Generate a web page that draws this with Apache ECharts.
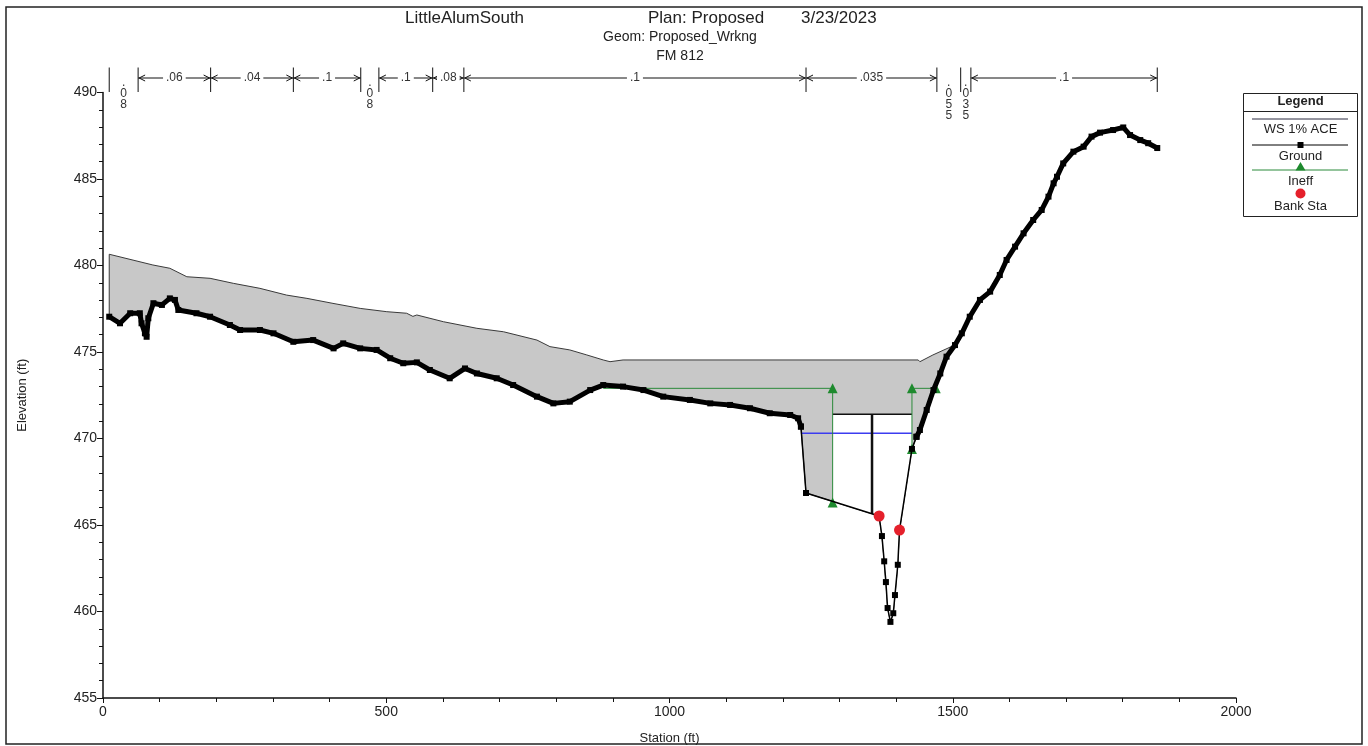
<!DOCTYPE html>
<html>
<head>
<meta charset="utf-8">
<title>LittleAlumSouth</title>
<script src="https://cdn.jsdelivr.net/npm/echarts@6/dist/echarts.min.js"></script>
<style>
  html, body { margin: 0; padding: 0; background: #fff; }
  #chart { width: 1368px; height: 746px; }
</style>
</head>
<body>
<div id="chart"></div>
<script>
// 断面数据 (station ft, elevation ft)
const wsSta = [11, 88, 118, 148, 189, 230, 277, 324, 360, 406, 454, 501, 536, 547, 554, 601, 660, 707, 766, 789, 824, 854, 883, 895, 918, 1439, 1442, 1465, 1500]
const wsElev = [480.65, 480.03, 479.84, 479.35, 479.26, 478.97, 478.68, 478.29, 478.10, 477.81, 477.52, 477.33, 477.24, 477.06, 477.14, 476.75, 476.37, 476.17, 475.69, 475.31, 475.12, 474.83, 474.54, 474.44, 474.54, 474.54, 474.44, 474.83, 475.35]

const groundSta = [11, 30, 48, 65, 68, 74, 77, 80, 89, 104, 118, 127, 133, 165, 189, 224, 242, 277, 301, 336, 371, 407, 424, 454, 483, 507, 530, 554, 577, 612, 639, 660, 695, 724, 766, 795, 824, 860, 883, 918, 954, 989, 1036, 1072, 1107, 1142, 1177, 1213, 1227, 1232,
  1241, 1370, 1375, 1379, 1382, 1385, 1390, 1395, 1398, 1403, 1406, 1428, 1436,
  1442, 1454, 1466, 1478, 1489, 1504, 1516, 1530, 1548, 1566, 1583, 1595, 1610, 1625, 1642, 1657, 1669, 1678, 1684, 1695, 1713, 1731, 1745, 1760, 1783, 1801, 1813, 1831, 1845, 1861]
const groundElev = [477.04, 476.66, 477.24, 477.24, 476.66, 476.08, 475.88, 476.95, 477.82, 477.72, 478.10, 478.01, 477.43, 477.24, 477.04, 476.56, 476.27, 476.27, 476.08, 475.59, 475.69, 475.21, 475.50, 475.21, 475.12, 474.64, 474.35, 474.40, 473.96, 473.48, 474.05, 473.76, 473.48, 473.09, 472.42, 472.03, 472.13, 472.80, 473.09, 473.00, 472.80, 472.42, 472.23, 472.03, 471.94, 471.75, 471.46, 471.36, 471.17, 470.69,
  466.85, 465.52, 464.36, 462.90, 461.70, 460.20, 459.40, 459.90, 460.95, 462.70, 464.71, 469.40, 470.10,
  470.49, 471.65, 472.80, 473.76, 474.73, 475.40, 476.08, 477.04, 478.01, 478.49, 479.45, 480.32, 481.09, 481.86, 482.63, 483.21, 483.98, 484.75, 485.13, 485.90, 486.58, 486.87, 487.45, 487.68, 487.83, 487.98, 487.54, 487.25, 487.07, 486.79]

// 主槽细线段的范围
const channelFrom = 1232
const channelTo = 1436

const ineffLeftSta = [883, 1288, 1288]
const ineffLeftElev = [472.9, 472.9, 466.3]
const ineffRightSta = [1470, 1428, 1428]
const ineffRightElev = [472.9, 472.9, 469.4]

const bankSta = [1370, 1406]
const bankElev = [465.52, 464.71]

// 无效区上盖和中间竖线
const blockSta = [1288, 1428]
const blockTop = 471.4
const postSta = 1357.5

const blueSta = [1232, 1428]
const blueElev = 470.3

// 糙率分区
const nBreaks = [11, 62, 190, 336, 455, 487, 582, 637, 1241, 1472, 1514, 1532, 1861]
const nValues = ['.08', '.06', '.04', '.1', '.08', '.1', '.08', '.1', '.035', '.055', '.035', '.1']

const xMin = 0, xMax = 2000, xStep = 500
const yMin = 455, yMax = 490, yStep = 5

const FONT = 'Liberation Sans, Arial, sans-serif'

function pairs(sta, elev) {
  return sta.map((s, i) => [s, elev[i]])
}

function groundAt(s) {
  for (let i = 0; i < groundSta.length - 1; i++) {
    if (s >= groundSta[i] && s <= groundSta[i + 1]) {
      const t = (s - groundSta[i]) / (groundSta[i + 1] - groundSta[i])
      return groundElev[i] + t * (groundElev[i + 1] - groundElev[i])
    }
  }
  return groundElev[groundElev.length - 1]
}

const groundAll = pairs(groundSta, groundElev)
const groundLeft = groundAll.filter(p => p[0] <= channelFrom)
const groundChan = groundAll.filter(p => p[0] >= channelFrom && p[0] <= channelTo)
const groundRight = groundAll.filter(p => p[0] >= channelTo)

const myChart = echarts.init(document.getElementById('chart'), null, { renderer: 'canvas' })

// 水面灰色填充
function renderWater(params, api) {
  const pts = wsSta.map((s, i) => api.coord([s, wsElev[i]]))
  const end = wsSta[wsSta.length - 1]
  const back = groundAll.filter(p => p[0] < end && p[0] >= wsSta[0]).reverse()
  back.forEach(p => pts.push(api.coord(p)))
  return {
    type: 'polygon',
    shape: { points: pts },
    style: { fill: '#c8c8c8', stroke: '#3a3a3a', lineWidth: 1 }
  }
}

// 无效区（白色）
function renderBlock(params, api) {
  const a = blockSta[0], b = blockSta[1]
  const pts = [api.coord([a, blockTop]), api.coord([b, blockTop]), api.coord([b, groundAt(b)])]
  groundAll.filter(p => p[0] > a && p[0] < b).reverse().forEach(p => pts.push(api.coord(p)))
  pts.push(api.coord([a, groundAt(a)]))
  return {
    type: 'polygon',
    shape: { points: pts },
    style: { fill: '#ffffff', stroke: 'none' }
  }
}

// 顶部糙率标注
function renderN(params, api) {
  const i = api.value(2)
  const x1 = api.coord([api.value(0), yMax])[0]
  const x2 = api.coord([api.value(1), yMax])[0]
  const top = api.coord([xMin, yMax])[1]
  const yl = top - 14.5
  const ln = { stroke: '#111', lineWidth: 1 }
  const children = []
  children.push({ type: 'line', shape: { x1: x1, y1: top - 25, x2: x1, y2: top - 0.5 }, style: ln })
  if (i === nValues.length - 1) {
    children.push({ type: 'line', shape: { x1: x2, y1: top - 25, x2: x2, y2: top - 0.5 }, style: ln })
  }
  const label = nValues[i]
  if (x2 - x1 >= 30) {
    children.push({ type: 'line', shape: { x1: x1, y1: yl, x2: x2, y2: yl }, style: ln })
    children.push({ type: 'polyline', shape: { points: [[x1 + 7, yl - 3], [x1 + 1, yl], [x1 + 7, yl + 3]] }, style: { stroke: '#111', lineWidth: 1, fill: 'none' } })
    children.push({ type: 'polyline', shape: { points: [[x2 - 7, yl - 3], [x2 - 1, yl], [x2 - 7, yl + 3]] }, style: { stroke: '#111', lineWidth: 1, fill: 'none' } })
    children.push({
      type: 'text',
      style: {
        text: label, x: (x1 + x2) / 2, y: yl,
        textAlign: 'center', textVerticalAlign: 'middle',
        font: '12px ' + FONT, fill: '#333',
        backgroundColor: '#fff', padding: [0, 3]
      }
    })
  } else {
    children.push({
      type: 'text',
      style: {
        text: label.split('').join('\n'), x: (x1 + x2) / 2, y: top - 15,
        textAlign: 'center', textVerticalAlign: 'top',
        font: '12px ' + FONT, fill: '#333', lineHeight: 11
      }
    })
  }
  return { type: 'group', children: children }
}

const nData = nValues.map((v, i) => [nBreaks[i], nBreaks[i + 1], i])

const legendX = 1243.5, legendY = 93.5, legendW = 114
const lc = legendX + legendW / 2

myChart.setOption({
  animation: false,
  backgroundColor: '#fff',
  grid: { left: 103, right: 132, top: 92.5, bottom: 48, containLabel: false, outerBoundsMode: 'none' },
  xAxis: {
    type: 'value', min: xMin, max: xMax, interval: xStep,
    name: 'Station (ft)', nameLocation: 'middle', nameGap: 34,
    nameTextStyle: { color: '#222', fontSize: 13, fontFamily: FONT },
    axisLine: { lineStyle: { color: '#111', width: 1.5 } },
    axisTick: { length: 5, lineStyle: { color: '#111' } },
    minorTick: { show: true, splitNumber: 5, length: 4, lineStyle: { color: '#111' } },
    splitLine: { show: false },
    axisLabel: { color: '#222', fontSize: 14, margin: 7, fontFamily: FONT, formatter: v => String(v) }
  },
  yAxis: {
    type: 'value', min: yMin, max: yMax, interval: yStep,
    name: 'Elevation (ft)', nameLocation: 'middle', nameGap: 74,
    nameTextStyle: { color: '#222', fontSize: 13, fontFamily: FONT },
    axisLine: { show: true, lineStyle: { color: '#111', width: 1.5 } },
    axisTick: { show: true, length: 6, lineStyle: { color: '#111' } },
    minorTick: { show: true, splitNumber: 5, length: 4, lineStyle: { color: '#111' } },
    splitLine: { show: false },
    axisLabel: { color: '#222', fontSize: 14, margin: 6, fontFamily: FONT }
  },
  series: [
    {
      name: 'WS 1% ACE', type: 'custom', renderItem: renderWater,
      data: [[xMin, yMin]], z: 1, silent: true
    },
    {
      name: 'block', type: 'custom', renderItem: renderBlock,
      data: [[blockSta[0], blockTop]], z: 2, silent: true
    },
    {
      name: 'blue', type: 'line', z: 3, symbol: 'none',
      data: [[blueSta[0], blueElev], [blueSta[1], blueElev]],
      lineStyle: { color: '#3c3cf0', width: 1.5 }
    },
    {
      name: 'lid', type: 'line', z: 3, symbol: 'none',
      data: [[blockSta[0], blockTop], [blockSta[1], blockTop]],
      lineStyle: { color: '#111', width: 1.5 }
    },
    {
      name: 'post', type: 'line', z: 3, symbol: 'none',
      data: [[postSta, blockTop], [postSta, groundAt(postSta)]],
      lineStyle: { color: '#111', width: 2.5 }
    },
    {
      name: 'Ineff', type: 'line', z: 4, symbol: 'triangle', symbolSize: 10,
      data: pairs(ineffLeftSta, ineffLeftElev).map((p, i) => i === 0 ? { value: p, symbol: 'none' } : p),
      lineStyle: { color: '#2b8a3a', width: 1 }, itemStyle: { color: '#1e8a2e' }
    },
    {
      name: 'Ineff', type: 'line', z: 4, symbol: 'triangle', symbolSize: 10,
      data: pairs(ineffRightSta, ineffRightElev),
      lineStyle: { color: '#2b8a3a', width: 1 }, itemStyle: { color: '#1e8a2e' }
    },
    {
      name: 'Ground', type: 'line', z: 5, symbol: 'rect', symbolSize: 6,
      data: groundLeft, lineStyle: { color: '#000', width: 5 }, itemStyle: { color: '#000' }
    },
    {
      name: 'Ground', type: 'line', z: 5, symbol: 'rect', symbolSize: 6,
      data: groundChan, lineStyle: { color: '#000', width: 1.5 }, itemStyle: { color: '#000' }
    },
    {
      name: 'Ground', type: 'line', z: 5, symbol: 'rect', symbolSize: 6,
      data: groundRight, lineStyle: { color: '#000', width: 5 }, itemStyle: { color: '#000' }
    },
    {
      name: 'Bank Sta', type: 'scatter', z: 6, symbol: 'circle', symbolSize: 11,
      data: pairs(bankSta, bankElev), itemStyle: { color: '#e5202b', opacity: 1 }
    },
    {
      name: 'n', type: 'custom', renderItem: renderN, data: nData, z: 10, silent: true,
      encode: { x: [0, 1], y: 2 }
    }
  ],
  graphic: [
    { type: 'rect', silent: true, shape: { x: 6, y: 7, width: 1356, height: 737 }, style: { fill: 'none', stroke: '#222', lineWidth: 1.5 } },
    { type: 'text', silent: true, style: { text: 'LittleAlumSouth', x: 405, y: 18, textVerticalAlign: 'middle', font: '17px ' + FONT, fill: '#222' } },
    { type: 'text', silent: true, style: { text: 'Plan: Proposed', x: 648, y: 18, textVerticalAlign: 'middle', font: '17px ' + FONT, fill: '#222' } },
    { type: 'text', silent: true, style: { text: '3/23/2023', x: 801, y: 18, textVerticalAlign: 'middle', font: '17px ' + FONT, fill: '#222' } },
    { type: 'text', silent: true, style: { text: 'Geom: Proposed_Wrkng', x: 680, y: 37, textAlign: 'center', textVerticalAlign: 'middle', font: '14px ' + FONT, fill: '#222' } },
    { type: 'text', silent: true, style: { text: 'FM 812', x: 680, y: 56, textAlign: 'center', textVerticalAlign: 'middle', font: '14px ' + FONT, fill: '#222' } },
    // 图例
    { type: 'rect', silent: true, shape: { x: legendX, y: legendY, width: legendW, height: 123 }, style: { fill: '#fff', stroke: '#222', lineWidth: 1 } },
    { type: 'text', silent: true, style: { text: 'Legend', x: lc, y: 101, textAlign: 'center', textVerticalAlign: 'middle', font: 'bold 13px ' + FONT, fill: '#222' } },
    { type: 'line', silent: true, shape: { x1: legendX, y1: 111.5, x2: legendX + legendW, y2: 111.5 }, style: { stroke: '#222', lineWidth: 1 } },
    { type: 'line', silent: true, shape: { x1: 1252, y1: 119, x2: 1348, y2: 119 }, style: { stroke: '#2a2a40', lineWidth: 1 } },
    { type: 'text', silent: true, style: { text: 'WS 1% ACE', x: lc, y: 129, textAlign: 'center', textVerticalAlign: 'middle', font: '13px ' + FONT, fill: '#222' } },
    { type: 'line', silent: true, shape: { x1: 1252, y1: 145, x2: 1348, y2: 145 }, style: { stroke: '#000', lineWidth: 1 } },
    { type: 'rect', silent: true, shape: { x: 1297.5, y: 142, width: 6, height: 6 }, style: { fill: '#000' } },
    { type: 'text', silent: true, style: { text: 'Ground', x: lc, y: 156, textAlign: 'center', textVerticalAlign: 'middle', font: '13px ' + FONT, fill: '#222' } },
    { type: 'line', silent: true, shape: { x1: 1252, y1: 170, x2: 1348, y2: 170 }, style: { stroke: '#2b8a3a', lineWidth: 1 } },
    { type: 'polygon', silent: true, shape: { points: [[1300.5, 162], [1305.5, 170.5], [1295.5, 170.5]] }, style: { fill: '#1e8a2e' } },
    { type: 'text', silent: true, style: { text: 'Ineff', x: lc, y: 181.5, textAlign: 'center', textVerticalAlign: 'middle', font: '13px ' + FONT, fill: '#222' } },
    { type: 'circle', silent: true, shape: { cx: 1300.5, cy: 193.5, r: 5 }, style: { fill: '#e5202b' } },
    { type: 'text', silent: true, style: { text: 'Bank Sta', x: lc, y: 206.5, textAlign: 'center', textVerticalAlign: 'middle', font: '13px ' + FONT, fill: '#222' } }
  ]
})
</script>
</body>
</html>
